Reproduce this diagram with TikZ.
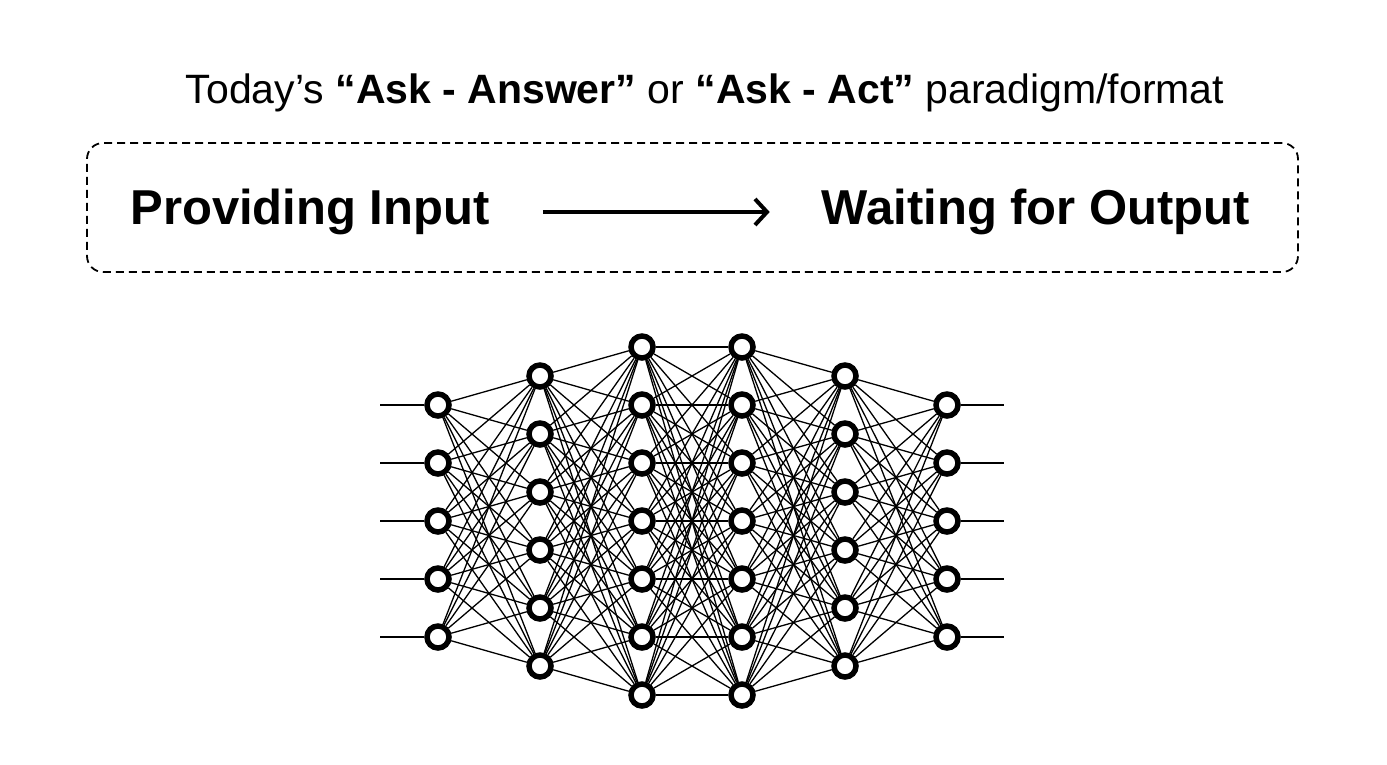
\documentclass[tikz,border=0pt]{standalone}
\usepackage{fontspec}
\setmainfont{Liberation Sans}
\usetikzlibrary{arrows.meta}
\usetikzlibrary{positioning}

\begin{document}
\begin{tikzpicture}[x=1pt,y=-1pt,
    neuron/.style={circle,draw,line width=5.5pt,fill=white,minimum size=22pt,inner sep=0pt},
    link/.style={line width=1.3pt},
    stage/.style={font=\fontsize{49}{54}\selectfont\bfseries,inner sep=0pt},
    frame/.style={draw,dash pattern=on 8pt off 5pt,line width=1.8pt,rounded corners=16pt}]

    \useasboundingbox (0,0) rectangle (1387,764);

    \node[font=\fontsize{41}{46}\selectfont] (title) at (705,93) {Today’s \textbf{“Ask - Answer”} or \textbf{“Ask - Act”} paradigm/format};

    \node[frame,minimum width=1211pt,minimum height=129pt] (box) at (692.5,207.5) {};
    \node[stage] (input) at (310,212) {Providing Input};
    \node[stage] (output) at (1036,212) {Waiting for Output};
    \draw[-{Straight Barb[length=12pt,width=26pt,line width=4pt]},line width=4pt,shorten <=53pt,shorten >=52pt] (input.east) -- (output.west);

    % layers of the network
    \foreach \l/\x/\n in {1/438/5,2/540/6,3/642/7,4/742/7,5/845/6,6/947/5}
        \foreach \i in {1,...,\n}
            \node[neuron] (n-\l-\i) at (\x,{521+58*(\i-(\n+1)/2)}) {};

    % full connections
    \foreach \l/\m/\a/\b in {1/2/5/6,2/3/6/7,3/4/7/7,4/5/7/6,5/6/6/5}
        \foreach \i in {1,...,\a}
            \foreach \j in {1,...,\b}
                \draw[link] (n-\l-\i) -- (n-\m-\j);

    % inputs and outputs
    \foreach \i in {1,...,5} {
        \coordinate (in-\i) at (380,{521+58*(\i-3)});
        \coordinate (out-\i) at (1004,{521+58*(\i-3)});
        \draw[link] (in-\i) -- (n-1-\i);
        \draw[link] (n-6-\i) -- (out-\i);
    }

\end{tikzpicture}
\end{document}
